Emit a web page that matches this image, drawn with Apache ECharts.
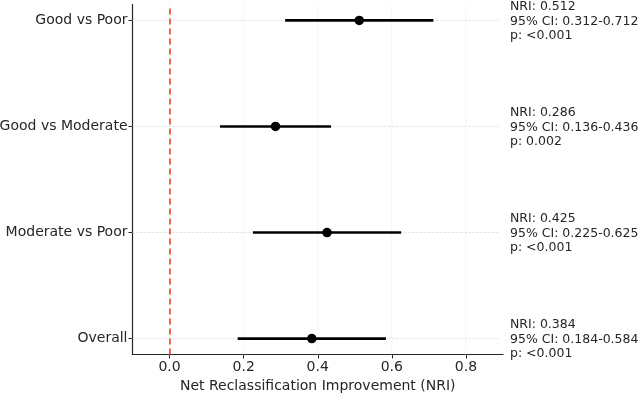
<!DOCTYPE html>
<html>
<head>
<meta charset="utf-8">
<script src="https://cdn.jsdelivr.net/npm/echarts@6/dist/echarts.min.js"></script>
<style>
  html, body { margin: 0; padding: 0; background: #fff; }
  #chart { width: 642px; height: 394px; }
</style>
</head>
<body>
<div id="chart"></div>
<script>
const categories = ['Overall', 'Moderate vs Poor', 'Good vs Moderate', 'Good vs Poor']
const nri = [0.384, 0.425, 0.286, 0.512]
const ciLow = [0.184, 0.225, 0.136, 0.312]
const ciHigh = [0.584, 0.625, 0.436, 0.712]
const pValues = ['<0.001', '<0.001', '0.002', '<0.001']
const xTicks = [0.0, 0.2, 0.4, 0.6, 0.8]

const X_MIN = -0.1
const X_MAX = 0.9
const font = 'DejaVu Sans'

const chart = echarts.init(document.getElementById('chart'))

const rows = categories.map((c, i) => [i, nri[i], ciLow[i], ciHigh[i]])

const getOption = () => {
  return {
    animation: false,
    grid: { left: 132.5, right: 139, top: 4.5, bottom: 39.5, outerBoundsMode: 'none', containLabel: false },
    xAxis: {
      type: 'value',
      min: X_MIN,
      max: X_MAX,
      name: 'Net Reclassification Improvement (NRI)',
      nameLocation: 'middle',
      nameGap: 23,
      nameTextStyle: { fontFamily: font, fontSize: 14, color: '#262626' },
      axisLine: { show: true, onZero: false, lineStyle: { color: '#262626', width: 1.2 } },
      axisTick: { show: true, length: 4, customValues: xTicks, lineStyle: { color: '#262626' } },
      axisLabel: {
        customValues: xTicks,
        formatter: v => v.toFixed(1),
        fontFamily: font, fontSize: 14, color: '#262626', margin: 6
      },
      splitLine: { show: false }
    },
    yAxis: {
      type: 'value',
      min: -0.15,
      max: 3.15,
      axisLine: { show: true, onZero: false, lineStyle: { color: '#262626', width: 1.2 } },
      axisTick: { show: true, length: 4, customValues: [0, 1, 2, 3], lineStyle: { color: '#262626' } },
      axisLabel: {
        customValues: [0, 1, 2, 3],
        formatter: v => categories[Math.round(v)] || '',
        fontFamily: font, fontSize: 14, color: '#262626', margin: 5
      },
      splitLine: { show: false }
    },
    series: [
      {
        type: 'custom',
        name: 'grid',
        silent: true,
        z: 1,
        data: [0],
        renderItem: (params, api) => {
          const children = []
          xTicks.forEach(t => {
            const a = api.coord([t, -0.15])
            const b = api.coord([t, 3.15])
            children.push({
              type: 'line',
              shape: { x1: a[0], y1: a[1], x2: b[0], y2: b[1] },
              style: { stroke: '#e6e6e6', lineWidth: 0.8, lineDash: [2, 2] }
            })
          })
          categories.forEach((c, i) => {
            const a = api.coord([X_MIN, i])
            const b = api.coord([X_MAX, i])
            children.push({
              type: 'line',
              shape: { x1: a[0], y1: a[1], x2: b[0] - 5, y2: b[1] },
              style: { stroke: '#d4d4d4', lineWidth: 0.8, lineDash: [2, 2] }
            })
          })
          return { type: 'group', children }
        }
      },
      {
        type: 'custom',
        name: 'ci',
        z: 3,
        data: rows,
        encode: { x: [2, 3], y: 0 },
        renderItem: (params, api) => {
          const y = api.value(0)
          const lo = api.coord([api.value(2), y])
          const hi = api.coord([api.value(3), y])
          const right = api.coord([X_MAX, y])
          const i = params.dataIndex
          return {
            type: 'group',
            children: [
              {
                type: 'line',
                shape: { x1: lo[0], y1: lo[1], x2: hi[0], y2: hi[1] },
                style: { stroke: '#000', lineWidth: 2.6 }
              },
              {
                type: 'text',
                x: right[0] + 7,
                y: right[1] + 1,
                style: {
                  text: 'NRI: ' + nri[i].toFixed(3) + '\n95% CI: ' + ciLow[i].toFixed(3) + '-' + ciHigh[i].toFixed(3) + '\np: ' + pValues[i],
                  fontFamily: font,
                  fontSize: 12.5,
                  lineHeight: 14.5,
                  fill: '#262626',
                  verticalAlign: 'middle',
                  align: 'left'
                }
              }
            ]
          }
        }
      },
      {
        type: 'scatter',
        name: 'NRI',
        z: 4,
        symbol: 'circle',
        symbolSize: 9.5,
        itemStyle: { color: '#000', opacity: 1 },
        data: rows.map(r => [r[1], r[0]]),
        markLine: {
          silent: true,
          symbol: 'none',
          label: { show: false },
          lineStyle: { color: '#e8391d', type: [6, 4], width: 1.5 },
          data: [{ xAxis: 0 }]
        }
      }
    ]
  }
}

chart.setOption(getOption())
</script>
</body>
</html>
